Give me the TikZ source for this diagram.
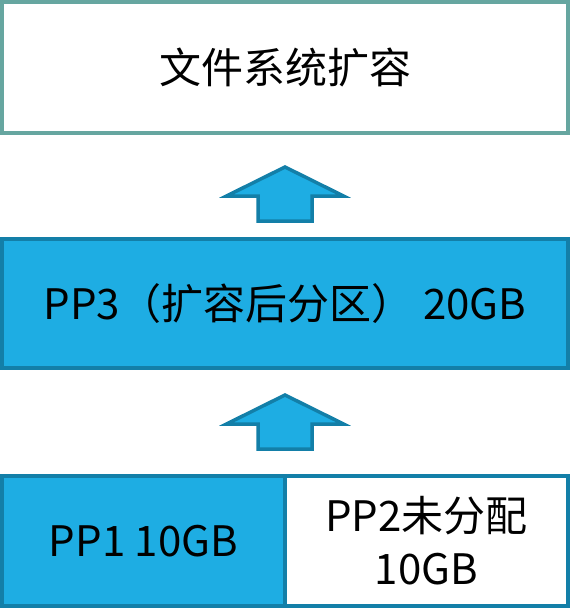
\documentclass[tikz,border=0pt]{standalone}
\usepackage{fontspec}
\setmainfont{Noto Sans CJK SC}
\usetikzlibrary{positioning}
\definecolor{bblue}{HTML}{1EADE3}
\definecolor{dblue}{HTML}{137FA8}
\definecolor{ggray}{HTML}{66A6A0}

\begin{document}
\begin{tikzpicture}[x=1pt,y=-1pt,
  box/.style={draw=dblue, fill=bblue, line width=4pt, inner sep=0pt, align=center,
    font=\fontsize{42}{53}\selectfont},
  uparrow/.style={draw=dblue, fill=bblue, line width=3.5pt, line join=miter}]
\useasboundingbox (0,0) rectangle (570,616);

% file system on top
\node[box, draw=ggray, fill=white, minimum width=566pt, minimum height=131pt] (fs) at (285,67.5) {文件系统扩容};

% partition after growing
\node[box, minimum width=566pt, minimum height=129pt] (pp3) at (285,303.5) {PP3（扩容后分区） 20GB};

% partitions before
\node[box, fill=white, minimum width=283pt, minimum height=130pt] (pp2) at (426.5,541) {PP2未分配\\10GB};
\node[box, minimum width=283pt, minimum height=130pt] (pp1) at (143.5,541) {PP1 10GB};

% block arrows
\foreach \t in {167,395}
\draw[uparrow] (285,\t) -- (343.5,\t+29) -- (312,\t+29) -- (312,\t+54)
  -- (258,\t+54) -- (258,\t+29) -- (226.5,\t+29) -- cycle;
\end{tikzpicture}
\end{document}
